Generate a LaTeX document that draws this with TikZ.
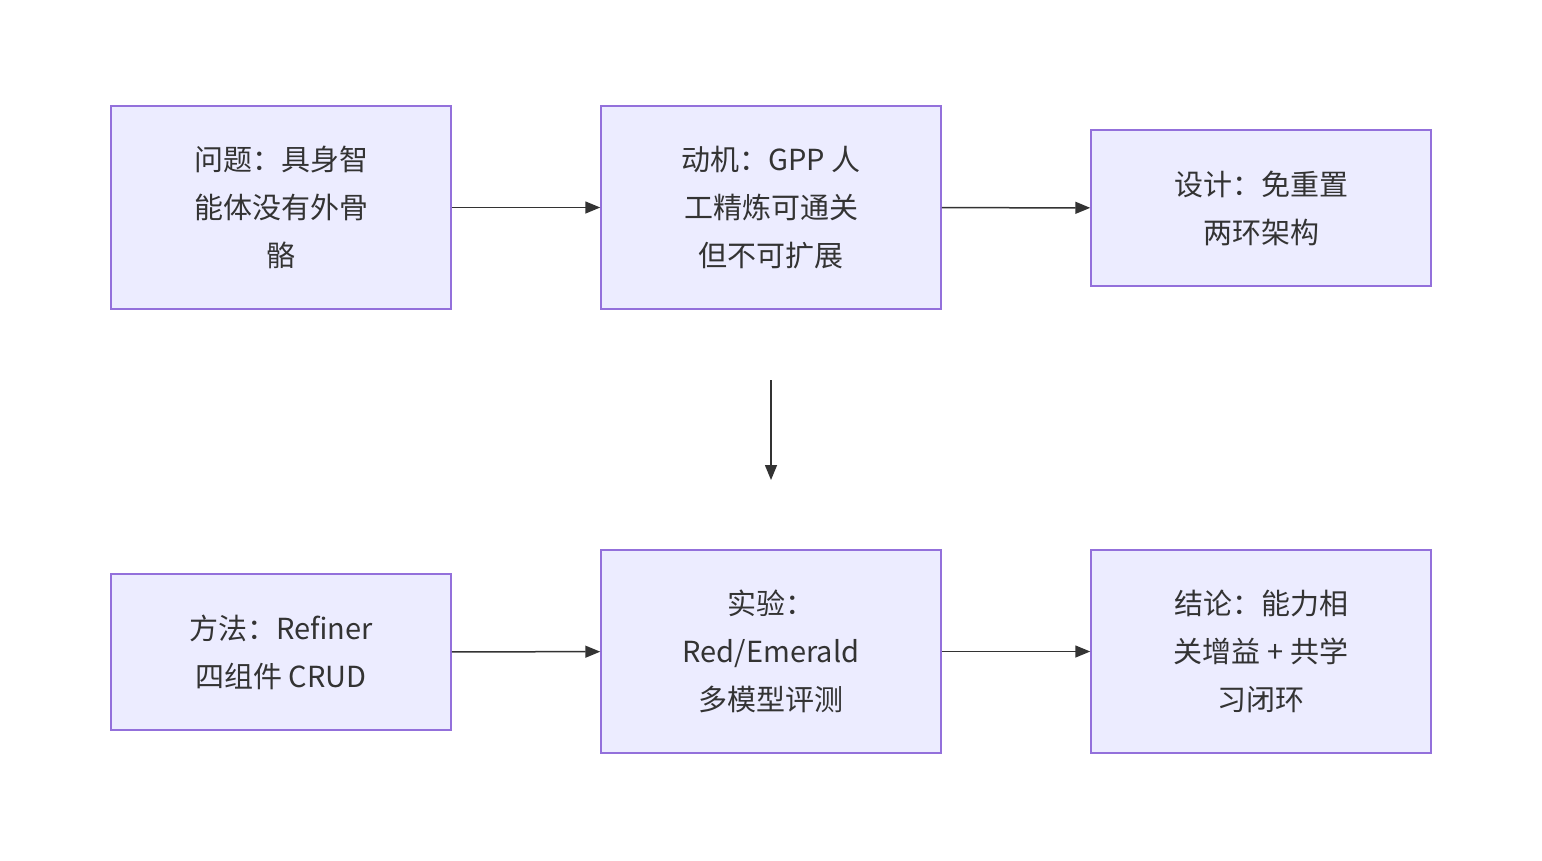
\documentclass[tikz,border=0pt]{standalone}
\usepackage{fontspec}
\setmainfont{Noto Sans CJK SC}
\usetikzlibrary{arrows.meta,positioning}
\definecolor{boxfill}{HTML}{ECECFF}
\definecolor{boxline}{HTML}{9370DB}
\definecolor{ink}{HTML}{333333}
\tikzset{
    stepbox/.style={draw=boxline,fill=boxfill,line width=1.5pt,minimum width=340pt,align=center,text=ink,
        font=\fontsize{29pt}{48pt}\selectfont,inner sep=0pt},
    flow/.style={draw=ink,line width=1.5pt,-{Triangle[length=15pt,width=12pt]}}
}
\begin{document}
\begin{tikzpicture}[x=1pt,y=-1pt]
                \useasboundingbox (0,0) rectangle (1542,860);
                \node[stepbox,minimum height=203pt] (prob) at (281,207.5) {问题：具身智\\能体没有外骨\\骼};
                \node[stepbox,minimum height=203pt] (motiv) at (771,207.5) {动机：GPP 人\\工精炼可通关\\但不可扩展};
                \node[stepbox,minimum height=156pt] (design) at (1261,208) {设计：免重置\\两环架构};
                \node[stepbox,minimum height=156pt] (method) at (281,652) {方法：Refiner\\四组件 CRUD};
                \node[stepbox,minimum height=203pt] (exper) at (771,651.5) {实验：\\Red/Emerald\\多模型评测};
                \node[stepbox,minimum height=203pt] (concl) at (1261,651.5) {结论：能力相\\关增益 + 共学\\习闭环};
                \coordinate (downtop) at (771,380);
                \coordinate (downend) at (771,480);

                \draw[flow] (prob) -- (motiv);
                \draw[flow] (motiv) -- (design);
                \draw[flow] (downtop) -- (downend);
                \draw[flow] (method) -- (exper);
                \draw[flow] (exper) -- (concl);
\end{tikzpicture}
\end{document}
